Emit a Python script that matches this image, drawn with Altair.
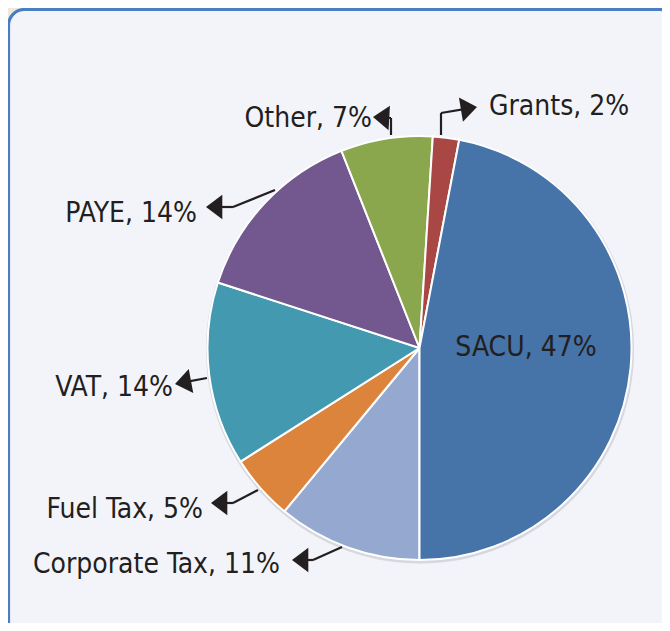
import math
import altair as alt
import pandas as pd

# ---- data (clockwise from 6 o'clock) ----
categories = ["Corporate Tax", "Fuel Tax", "VAT", "PAYE", "Other", "Grants", "SACU"]
shares = [11, 5, 14, 14, 7, 2, 47]
colors = ["#95a9d0", "#dc843c", "#4299b0", "#72588f", "#8aa74e", "#a94744", "#4673a8"]

# ---- layout (pixels inside the view) ----
W, H = 654, 615
CX, CY, R = 411.5, 340, 212
FONT = "DejaVu Sans Condensed"
FS = 28
INK = "#231f20"

label_x = [272, 195, 165, 189, 364, 481, 518]
label_y = [565, 510, 388, 213.5, 119, 107, 348]
label_align = ["right", "right", "right", "right", "right", "left", "center"]

lead_start = [(334, 539), (250, 482), (199, 370), (267, 182), (383, 127), (433, 127), None]
lead_elbow = [(305, 552), (225, 495), (199, 370), (225, 199), (383, 110), (433, 105), None]
lead_tip = [(284, 552), (203, 495), (167, 376), (198, 199), (365, 109), (469, 99), None]
HEAD_LEN = 12

pie_df = pd.DataFrame({"category": categories, "share": shares, "order": list(range(len(categories)))})

labels_df = pd.DataFrame({
    "text": [f"{c}, {s}%" for c, s in zip(categories, shares)],
    "x": label_x, "y": label_y, "align": label_align,
})

seg_rows, head_rows = [], []
for s, e, t in zip(lead_start, lead_elbow, lead_tip):
    if s is None:
        continue
    dx, dy = t[0] - e[0], t[1] - e[1]
    L = math.hypot(dx, dy)
    ux, uy = dx / L, dy / L
    base = (t[0] - ux * (HEAD_LEN - 2), t[1] - uy * (HEAD_LEN - 2))
    if s != e:
        seg_rows.append({"x": s[0], "y": s[1], "x2": e[0], "y2": e[1]})
    seg_rows.append({"x": e[0], "y": e[1], "x2": base[0], "y2": base[1]})
    ang = (180 + math.degrees(math.atan2(dy, dx))) % 360
    head_rows.append({"x": t[0], "y": t[1], "angle": ang})
seg_df = pd.DataFrame(seg_rows)
head_df = pd.DataFrame(head_rows)
one = pd.DataFrame({"k": [0]})

panel = alt.Chart(one).mark_rect(
    fill="#f3f4fa", stroke="#4a7ec3", strokeWidth=3.2, cornerRadius=16
).encode(x=alt.value(0.5), x2=alt.value(668), y=alt.value(1.5), y2=alt.value(630))

shadow = alt.Chart(one).mark_arc(
    radius=R + 2, theta=0, theta2=2 * math.pi, color="#d6d8df"
).encode(x=alt.value(CX + 0.5), y=alt.value(CY + 1.5))

pie = alt.Chart(pie_df).mark_arc(radius=R, stroke="white", strokeWidth=2).encode(
    theta=alt.Theta("share:Q", stack=True, scale=alt.Scale(range=[math.pi, 3 * math.pi])),
    color=alt.Color("category:N", scale=alt.Scale(domain=categories, range=colors), legend=None),
    order=alt.Order("order:Q"),
    x=alt.value(CX),
    y=alt.value(CY),
)

lines = alt.Chart(seg_df).mark_rule(color=INK, strokeWidth=2.2).encode(
    x=alt.X("x:Q", scale=None, axis=None),
    y=alt.Y("y:Q", scale=None, axis=None),
    x2="x2:Q",
    y2="y2:Q",
)

heads = alt.Chart(head_df).mark_point(
    shape="M0,0L1.33,-1L1.33,1Z", filled=True, color=INK, opacity=1, size=600, strokeWidth=0
).encode(
    x=alt.X("x:Q", scale=None, axis=None),
    y=alt.Y("y:Q", scale=None, axis=None),
    angle=alt.Angle("angle:Q", scale=None),
)

texts = []
for al in ["left", "right", "center"]:
    sub = labels_df[labels_df["align"] == al]
    texts.append(
        alt.Chart(sub).mark_text(
            align=al, baseline="alphabetic", font=FONT, fontSize=FS, color=INK
        ).encode(
            x=alt.X("x:Q", scale=None, axis=None),
            y=alt.Y("y:Q", scale=None, axis=None),
            text="text:N",
        )
    )

chart = alt.layer(panel, shadow, pie, lines, heads, *texts).properties(
    width=W, height=H, padding=0, autosize=alt.AutoSizeParams(type="none"),
    background="#efe8de",
).configure_view(strokeWidth=0)

chart.save("out.html", embed_options={"renderer": "svg", "actions": False})
